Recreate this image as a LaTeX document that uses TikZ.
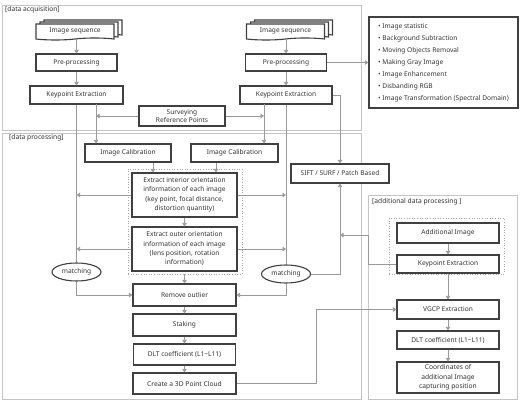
\documentclass[tikz,border=0pt]{standalone}
\usepackage{fontspec}
\setmainfont{Noto Sans}
\usetikzlibrary{arrows.meta,shapes.symbols,shapes.geometric}
\definecolor{boxc}{HTML}{404040}
\definecolor{txtc}{HTML}{333333}
\definecolor{linec}{HTML}{9A9A9A}
\definecolor{regc}{HTML}{C4C4C4}
\begin{document}
\begin{tikzpicture}[x=1pt,y=-1pt,
  box/.style={draw=boxc, line width=1.1pt, fill=white, text=txtc, align=center, inner sep=0.5pt,
    font=\fontsize{6.6}{9.3}\selectfont},
  bbox/.style={box, font=\fontsize{6.7}{9.3}\selectfont\bfseries},
  doc/.style={box, tape, tape bend top=none, tape bend bottom=in and out, tape bend height=2pt,
    minimum width=78pt, minimum height=16pt},
  oval/.style={box, ellipse, inner sep=0pt, minimum width=49pt, minimum height=18pt},
  region/.style={draw=regc, line width=0.6pt, minimum width=#1, inner sep=0pt},
  dotbox/.style={draw=regc!85!black, line width=0.6pt, dotted, inner sep=0pt},
  rlabel/.style={anchor=west, text=txtc, font=\fontsize{6.7}{7.5}\selectfont\bfseries, inner sep=0pt},
  conn/.style={draw=linec, line width=0.7pt},
  arr/.style={conn, -{Triangle[width=4.5pt,length=3.5pt]}}
]
\useasboundingbox (0,0) rectangle (521,401);
\fill[white] (0,0) rectangle (521,401);

% regions
\node[region=359pt, minimum height=125pt] (acq) at (181.5,67.5) {};
\node[region=359pt, minimum height=266pt] (proc) at (181.5,266) {};
\node[region=149pt, minimum height=204pt] (addreg) at (442.5,297) {};
\node[dotbox, minimum width=115pt, minimum height=56pt] (addin) at (446.5,246) {};
\node[dotbox, minimum width=114pt, minimum height=105pt] (dotb) at (185,221.5) {};
\node[rlabel] (lacq) at (5,10) {[data acquisition]};
\node[rlabel] (lproc) at (9,138) {[data processing]};
\node[rlabel] (ladd) at (372,202) {[additional data processing ]};

% acquisition
\node[doc] (imgL3) at (83,27) {};
\node[doc] (imgL2) at (79,29) {};
\node[doc] (imgL) at (75,31) {Image sequence};
\node[box, minimum width=81pt, minimum height=17pt] (preL) at (76.5,62.5) {Pre-processing};
\node[box, minimum width=93pt, minimum height=18pt] (kpL) at (76.5,95) {Keypoint Extraction};

\node[doc] (imgR3) at (293.5,27) {};
\node[doc] (imgR2) at (289.5,29) {};
\node[doc] (imgR) at (285.5,31) {Image sequence};
\node[box, minimum width=81pt, minimum height=17pt] (preR) at (286,62.5) {Pre-processing};
\node[box, minimum width=92pt, minimum height=18pt] (kpR) at (286,95) {Keypoint Extraction};

\node[box, minimum width=86pt, minimum height=20pt, font=\fontsize{6.6}{7.6}\selectfont] (surv) at (182,116) {Surveying\\Reference Points};

\node[box, minimum width=149pt, minimum height=91pt, align=left, font=\fontsize{6.6}{12}\selectfont] (list) at (443.5,62.5)
 {• Image statistic\\• Background Subtraction\\• Moving Objects Removal\\• Making Gray Image\\• Image Enhancement\\• Disbanding RGB\\• Image Transformation (Spectral Domain)};

% processing
\node[box, minimum width=86pt, minimum height=18pt] (calL) at (128,153) {Image Calibration};
\node[box, minimum width=87pt, minimum height=18pt] (calR) at (234.5,153) {Image Calibration};
\node[box, minimum width=98pt, minimum height=19pt] (sift) at (340,173.5) {SIFT / SURF / Patch Based};
\node[box, minimum width=105pt, minimum height=44pt] (extI) at (184.5,195)
 {Extract interior orientation\\information of each image\\(key point, focal distance,\\distortion quantity)};
\node[box, minimum width=105pt, minimum height=44pt] (extO) at (184.5,249)
 {Extract outer orientation\\information of each image\\(lens position, rotation\\information)};
\node[oval] (matchL) at (76.5,272) {matching};
\node[oval] (matchR) at (286,274) {matching};
\node[box, minimum width=103pt, minimum height=22pt] (remove) at (184.5,295) {Remove outlier};
\node[box, minimum width=103pt, minimum height=22pt] (stak) at (184.5,325) {Staking};
\node[box, minimum width=102pt, minimum height=21pt] (dlt) at (184.5,354.5) {DLT coefficient (L1\textasciitilde L11)};
\node[bbox, minimum width=103pt, minimum height=21pt] (create) at (184.5,383.5) {Create a 3D Point Cloud};

% additional
\node[box, minimum width=102pt, minimum height=20pt] (addimg) at (448,233) {Additional Image};
\node[box, minimum width=102pt, minimum height=18pt] (kpA) at (448,264) {Keypoint Extraction};
\node[box, minimum width=102pt, minimum height=19pt] (vgcp) at (448,309.5) {VGCP Extraction};
\node[box, minimum width=102pt, minimum height=18pt] (dltA) at (448,340) {DLT coefficient (L1\textasciitilde L11)};
\node[bbox, minimum width=102pt, minimum height=31pt] (coord) at (448,377.5) {Coordinates of\\additional Image\\capturing position};

% connectors
\draw[arr] (preL.north |- imgL.south) -- (preL.north);
\draw[arr] (preL) -- (kpL);
\draw[arr] (preR.north |- imgR.south) -- (preR.north);
\draw[arr] (preR) -- (kpR);
\draw[arr] (preR.east) -- (list.west |- preR.east);

\draw[conn] (kpL.south) -- (matchL.north);
\coordinate (cL2) at (96,104);
\draw[arr] (cL2) -- (cL2 |- calL.north);
\draw[arr] (surv.west) -- (surv.west -| cL2);
\coordinate (cR1) at (264,104);
\draw[arr] (cR1) -- (cR1 |- calR.north);
\draw[arr] (surv.east) -- (surv.east -| cR1);
\draw[conn] (kpR.south) -- (matchR.north);
\draw[arr] (kpR.east) -| (sift.north);

\draw[arr] ([xshift=25pt]calL.south) -- ([xshift=25pt]calL.south |- extI.north);
\draw[arr] ([xshift=-18.5pt]calR.south) -- ([xshift=-18.5pt]calR.south |- extI.north);
\draw[arr] (extI.west) -- (extI.west -| kpL.south);
\draw[arr] (extO.west) -- (extO.west -| kpL.south);
\draw[arr] (extI.east) -- (extI.east -| kpR.south);
\draw[arr] (extO.east) -- (extO.east -| kpR.south);
\draw[arr] (extI) -- (extO);
\draw[arr] (dotb.south -| remove.north) -- (remove.north);
\draw[arr] (matchL.south) |- (remove.west);
\draw[arr] (matchR.south) |- (remove.east);
\draw[arr] (matchR.east) -| (sift.south);
\draw[arr] (remove) -- (stak);
\draw[arr] (stak) -- (dlt);
\draw[arr] (dlt) -- (create);

\coordinate (jA) at (368,235);
\draw[arr] (kpA.west) -| (jA) -- (jA -| sift.south);
\draw[arr] (addimg) -- (kpA);
\draw[arr] (kpA) -- (vgcp);
\draw[arr] (vgcp) -- (dltA);
\draw[arr] (dltA) -- (coord);
\draw[arr] (create.east) -- ++(79.5,0) |- (vgcp.west);
\end{tikzpicture}
\end{document}
